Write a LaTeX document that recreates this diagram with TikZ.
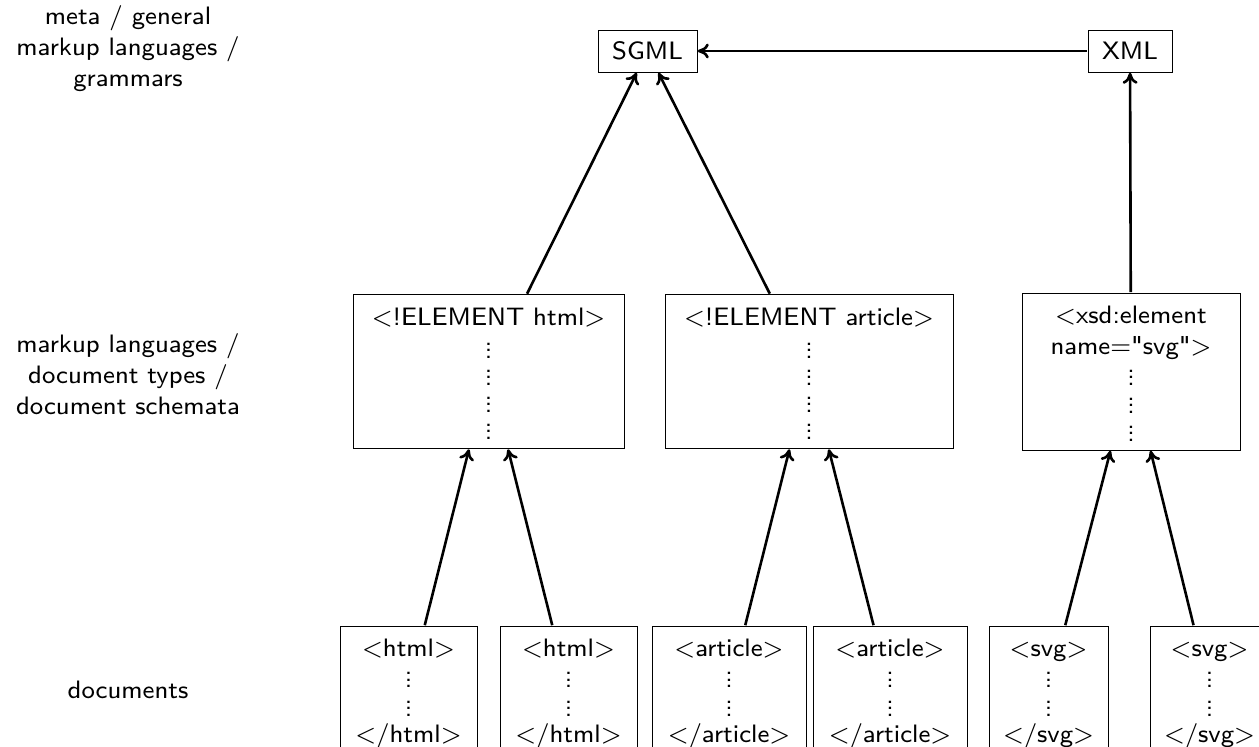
\documentclass[tikz,border=0pt]{standalone}
\usepackage{fontspec}
\usetikzlibrary{arrows.meta}
\newcommand{\vd}{\lower0.8pt\vbox{\baselineskip2.1pt\lineskiplimit-10pt\lineskip0pt\kern1.5pt\hbox{.}\hbox{.}\hbox{.}}}
\newcommand{\dq}{\XeTeXglyph\XeTeXcharglyph"22\relax}
\newcommand{\up}[1]{\rule{0pt}{#1}}
\def\sc{3.15}
\begin{document}
\begin{tikzpicture}[x=1pt,y=-1pt,
  every node/.style={font=\fontsize{8}{9.85}\selectfont\sffamily, align=center, inner sep=0pt, scale=\sc},
  box/.style={draw, line width=0.5pt},
  arr/.style={line width=2.6pt, -{To[length=11pt,width=15pt]}},
  lbl/.style={}]
\useasboundingbox (0,0) rectangle (1259,747);
\clip (0,0) rectangle (1259,747);
% level labels
\node[lbl] (l1) at (128,49) {meta / general\\markup languages /\\grammars};
\node[lbl] (l2) at (128,374) {markup languages /\\document types /\\document schemata};
\node[lbl] (l3) at (128,690) {documents};
% top
\node[box, minimum width={99pt/\sc}, minimum height={42pt/\sc}] (sgml) at (647.5,51) {SGML};
\node[box, minimum width={84pt/\sc}, minimum height={42pt/\sc}] (xml) at (1130,51) {XML};
% schemata
\node[box, minimum width={271pt/\sc}, minimum height={154pt/\sc}] (hs) at (488.5,371.5)
  {\up{6.9pt}$<$!ELEMENT html$>$\\[-0.15pt]\vd\\[-1.25pt]\vd\\[-1.25pt]\vd\\[-1.25pt]\vd};
\node[box, minimum width={288pt/\sc}, minimum height={154pt/\sc}] (as) at (809,371.5)
  {\up{6.9pt}$<$!ELEMENT article$>$\\[-0.15pt]\vd\\[-1.25pt]\vd\\[-1.25pt]\vd\\[-1.25pt]\vd};
\node[box, minimum width={218pt/\sc}, minimum height={157pt/\sc}] (ss) at (1131,371.5)
  {\up{6.9pt}$<$xsd:element\\name=\dq svg\dq$>$\\[-0.75pt]\vd\\[-0.95pt]\vd\\[-0.95pt]\vd};
% documents
\node[box, minimum width={137pt/\sc}, minimum height={128pt/\sc}] (h1) at (408.5,690)
  {\up{8.1pt}$<$html$>$\\[-0.75pt]\vd\\[-0.75pt]\vd\\[-0.75pt]$<$/html$>$};
\node[box, minimum width={137pt/\sc}, minimum height={128pt/\sc}] (h2) at (568.5,690)
  {\up{8.1pt}$<$html$>$\\[-0.75pt]\vd\\[-0.75pt]\vd\\[-0.75pt]$<$/html$>$};
\node[box, minimum width={154pt/\sc}, minimum height={128pt/\sc}] (a1) at (729,690)
  {\up{8.1pt}$<$article$>$\\[-0.75pt]\vd\\[-0.75pt]\vd\\[-0.75pt]$<$/article$>$};
\node[box, minimum width={154pt/\sc}, minimum height={128pt/\sc}] (a2) at (890,690)
  {\up{8.1pt}$<$article$>$\\[-0.75pt]\vd\\[-0.75pt]\vd\\[-0.75pt]$<$/article$>$};
\node[box, minimum width={119pt/\sc}, minimum height={128pt/\sc}] (s1) at (1048.5,690)
  {\up{8.1pt}$<$svg$>$\\[-0.75pt]\vd\\[-0.75pt]\vd\\[-0.75pt]$<$/svg$>$};
\node[box, minimum width={119pt/\sc}, minimum height={128pt/\sc}] (s2) at (1209.5,690)
  {\up{8.1pt}$<$svg$>$\\[-0.75pt]\vd\\[-0.75pt]\vd\\[-0.75pt]$<$/svg$>$};
% connectors
\draw[arr] (xml) -- (sgml);
\draw[arr] (hs) -- (sgml);
\draw[arr] (as) -- (sgml);
\draw[arr] (ss) -- (xml);
\draw[arr] (h1) -- (hs);
\draw[arr] (h2) -- (hs);
\draw[arr] (a1) -- (as);
\draw[arr] (a2) -- (as);
\draw[arr] (s1) -- (ss);
\draw[arr] (s2) -- (ss);
\end{tikzpicture}
\end{document}
